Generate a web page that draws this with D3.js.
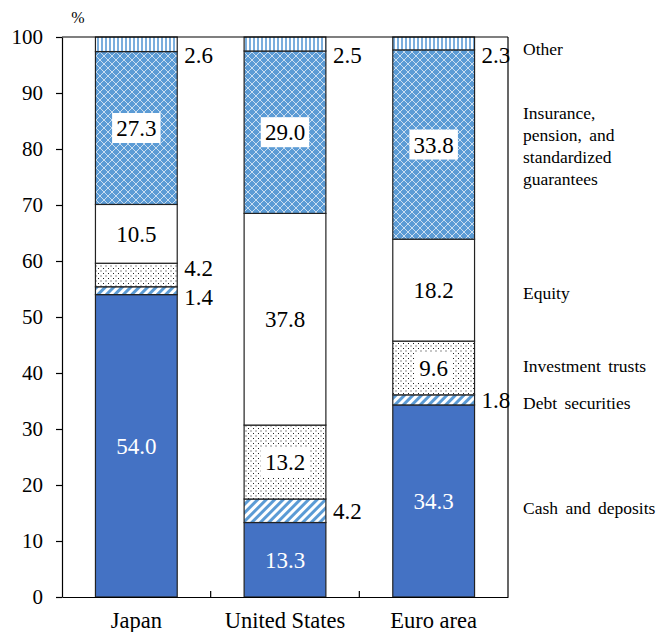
<!DOCTYPE html>
<html>
<head>
<meta charset="utf-8">
<script src="https://cdn.jsdelivr.net/npm/d3@7"></script>
<style>
  html, body { margin: 0; padding: 0; background: #fff; }
</style>
</head>
<body>
<svg id="chart" width="661" height="632"></svg>
<script>
// Household financial assets composition, % of total
const regions = ["Japan", "United States", "Euro area"];
const seriesNames = ["Cash and deposits", "Debt securities", "Investment trusts", "Equity",
  "Insurance, pension, and standardized guarantees", "Other"];
const cashDeposits   = [54.0, 13.3, 34.3];
const debtSecurities = [1.4, 4.2, 1.8];
const investTrusts   = [4.2, 13.2, 9.6];
const equity         = [10.5, 37.8, 18.2];
const insurance      = [27.3, 29.0, 33.8];
const other          = [2.6, 2.5, 2.3];
const yTicks = [0, 10, 20, 30, 40, 50, 60, 70, 80, 90, 100];
const legendLines = [
  ["Cash and deposits"],
  ["Debt securities"],
  ["Investment trusts"],
  ["Equity"],
  ["Insurance,", "pension, and", "standardized", "guarantees"],
  ["Other"]
];

const SERIF = "Liberation Serif";
const seriesValues = [cashDeposits, debtSecurities, investTrusts, equity, insurance, other];
const keys = seriesNames.map((d, i) => "s" + i);
const table = regions.map((r, j) => {
  const row = { region: r };
  keys.forEach((k, i) => row[k] = seriesValues[i][j]);
  return row;
});

const margin = { top: 37, left: 62, right: 153, bottom: 35 };
const W = 661, H = 632;
const svg = d3.select("#chart");

const x = d3.scaleBand().domain(regions).range([margin.left, W - margin.right]).paddingInner(0.45).paddingOuter(0.225);
const y = d3.scaleLinear().domain([0, 100]).range([H - margin.bottom, margin.top]);

// fill patterns
const defs = svg.append("defs");
const BLUE = "#4472C4", LBLUE = "#5B9BD5";

const pOther = defs.append("pattern").attr("id", "p-other").attr("patternUnits", "userSpaceOnUse")
  .attr("width", 4).attr("height", 4);
pOther.append("rect").attr("width", 4).attr("height", 4).attr("fill", "#fff");
pOther.append("rect").attr("x", 1.2).attr("width", 1.6).attr("height", 4).attr("fill", LBLUE);

const pDebt = defs.append("pattern").attr("id", "p-debt").attr("patternUnits", "userSpaceOnUse")
  .attr("width", 6).attr("height", 6).attr("patternTransform", "rotate(45)");
pDebt.append("rect").attr("width", 6).attr("height", 6).attr("fill", "#fff");
pDebt.append("rect").attr("width", 3).attr("height", 6).attr("fill", LBLUE);

const pDots = defs.append("pattern").attr("id", "p-dots").attr("patternUnits", "userSpaceOnUse")
  .attr("width", 5).attr("height", 5);
pDots.append("rect").attr("width", 5).attr("height", 5).attr("fill", "#fff");
pDots.append("rect").attr("x", 0.5).attr("y", 0.5).attr("width", 1).attr("height", 1).attr("fill", "#222");
pDots.append("rect").attr("x", 3).attr("y", 3).attr("width", 1).attr("height", 1).attr("fill", "#222");

const pIns = defs.append("pattern").attr("id", "p-ins").attr("patternUnits", "userSpaceOnUse")
  .attr("width", 8).attr("height", 8);
pIns.append("rect").attr("width", 8).attr("height", 8).attr("fill", LBLUE);
pIns.append("path").attr("d", "M0,0L8,8M8,0L0,8M-1,7L1,9M7,-1L9,1M-1,1L1,-1M7,9L9,7")
  .attr("stroke", "#fff").attr("stroke-width", 0.8).attr("fill", "none").attr("opacity", 0.85);

const fills = [BLUE, "url(#p-debt)", "url(#p-dots)", "#fff", "url(#p-ins)", "url(#p-other)"];

const stacked = d3.stack().keys(keys)(table);

// bars
stacked.forEach((layer, i) => {
  svg.append("g").selectAll("rect").data(layer).join("rect")
    .attr("x", d => x(d.data.region))
    .attr("width", x.bandwidth())
    .attr("y", d => y(d[1]))
    .attr("height", d => y(d[0]) - y(d[1]))
    .attr("fill", fills[i])
    .attr("stroke", "#222").attr("stroke-width", 1.2);
});

// value labels
const FS = 23;
const labels = svg.append("g");
function label(xp, yp, txt, anchor, color) {
  return labels.append("text").attr("x", xp).attr("y", yp).attr("dy", "0.35em")
    .attr("text-anchor", anchor).attr("fill", color)
    .style("font-family", SERIF).style("font-size", FS + "px").text(txt);
}
regions.forEach((r, j) => {
  const outside = [];
  stacked.forEach((layer, i) => {
    const d = layer[j];
    const v = d[1] - d[0];
    const mid = (y(d[0]) + y(d[1])) / 2;
    const txt = v.toFixed(1);
    if (v < 5) {
      outside.push({ txt, yc: mid, top: i === stacked.length - 1 });
    } else {
      const cx = x(r) + x.bandwidth() / 2;
      if (i === 2 || i === 4) {
        const w = txt.length * FS * 0.44 + 8;
        labels.append("rect").attr("x", cx - w / 2).attr("y", mid - 15).attr("width", w).attr("height", 30).attr("fill", "#fff");
      }
      label(cx, mid, txt, "middle", i === 0 ? "#fff" : "#000");
    }
  });
  // keep outside labels clear of the frame and of each other
  outside.forEach(o => { if (o.top) o.yc = Math.max(o.yc, y(100) + 18); });
  for (let k = 1; k < outside.length; k++) {
    const a = outside[k - 1], b = outside[k];
    if (!a.top && !b.top && a.yc - b.yc < 29) {
      const m = (a.yc + b.yc) / 2;
      a.yc = m + 14.5; b.yc = m - 14.5;
    }
  }
  outside.forEach(o => label(x(r) + x.bandwidth() + 7, o.yc, o.txt, "start", "#000"));
});

// frame and axes
const plotR = W - margin.right, plotB = H - margin.bottom;
svg.append("line").attr("x1", margin.left).attr("x2", plotR).attr("y1", margin.top).attr("y2", margin.top)
  .attr("stroke", "#000").attr("stroke-width", 1.2);
svg.append("line").attr("x1", plotR).attr("x2", plotR).attr("y1", margin.top).attr("y2", plotB)
  .attr("stroke", "#000").attr("stroke-width", 1.2);

const yAxis = svg.append("g").attr("transform", `translate(${margin.left},0)`)
  .call(d3.axisLeft(y).tickValues(yTicks).tickSize(6).tickSizeOuter(0).tickPadding(13));
yAxis.attr("font-family", null);
yAxis.selectAll("text").attr("fill", "#000").style("font-family", SERIF).style("font-size", "21px");
yAxis.selectAll("line, path").attr("stroke", "#000").attr("stroke-width", 1.2);

const xAxis = svg.append("g").attr("transform", `translate(0,${plotB})`)
  .call(d3.axisBottom(x).tickSize(0).tickSizeOuter(0));
xAxis.attr("font-family", null);
xAxis.selectAll("text").attr("fill", "#000").attr("y", 31).attr("dy", null)
  .style("font-family", SERIF).style("font-size", "22.5px");
xAxis.select("path").attr("stroke", "#000").attr("stroke-width", 1.2);
// category separators on the baseline
const step = x.step();
regions.slice(1).forEach(r => {
  const bx = x(r) - x.paddingInner() * step / 2;
  svg.append("line").attr("x1", bx).attr("x2", bx).attr("y1", plotB).attr("y2", plotB - 6)
    .attr("stroke", "#000").attr("stroke-width", 1.2);
});

svg.append("text").attr("x", margin.left + 16).attr("y", 23).attr("text-anchor", "middle")
  .style("font-family", SERIF).style("font-size", "16px").text("%");

// series names beside the last bar, nudged to sit clear of each other
const legendNudge = [7, 3, -2, 3, 1, 5];
const last = regions.length - 1;
const leg = svg.append("g");
stacked.forEach((layer, i) => {
  const d = layer[last];
  const yc = (y(d[0]) + y(d[1])) / 2 + legendNudge[i];
  const lines = legendLines[i];
  const lh = 22;
  lines.forEach((ln, k) => {
    leg.append("text").attr("x", plotR + 15).attr("y", yc + (k - (lines.length - 1) / 2) * lh)
      .attr("dy", "0.35em").style("font-family", SERIF).style("font-size", "17.5px")
      .style("word-spacing", "3px").text(ln);
  });
});
</script>
</body>
</html>
